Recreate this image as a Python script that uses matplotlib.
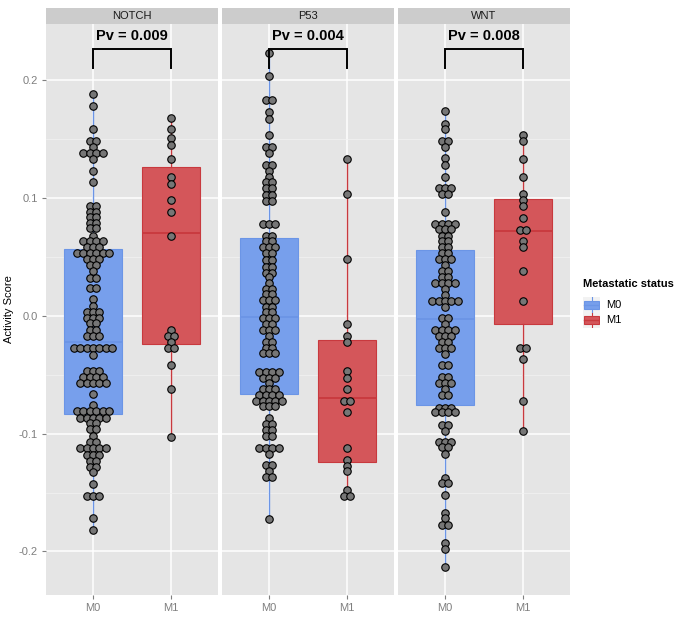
import matplotlib
matplotlib.use("Agg")
import matplotlib.pyplot as plt
from matplotlib.patches import Rectangle

plt.rcParams['font.family'] = ['Liberation Sans', 'DejaVu Sans']

W, H = 680, 617

panels = ['NOTCH', 'P53', 'WNT']
groups = ['M0', 'M1']
pvalues = ['Pv = 0.009', 'Pv = 0.004', 'Pv = 0.008']

# dot rows: level of each stacked row and number of dots in it
notch_m0_y = [0.188, 0.178, 0.158, 0.148, 0.143, 0.138, 0.133, 0.123, 0.113, 0.093, 0.088, 0.084,
              0.079, 0.074, 0.068, 0.063, 0.058, 0.053, 0.048, 0.043, 0.038, 0.032, 0.0235, 0.014,
              0.008, 0.0034, -0.0017, -0.0062, -0.012, -0.017, -0.027, -0.033, -0.047, -0.052,
              -0.057, -0.066, -0.076, -0.081, -0.087, -0.091, -0.096, -0.102, -0.107, -0.112,
              -0.118, -0.123, -0.128, -0.133, -0.143, -0.153, -0.172, -0.182]
notch_m0_n = [1, 1, 1, 2, 1, 4, 1, 1, 1, 2, 2, 2,
              2, 2, 1, 4, 3, 6, 3, 2, 1, 2, 2, 1,
              1, 3, 3, 2, 2, 3, 7, 1, 3, 4,
              5, 1, 1, 6, 5, 2, 2, 1, 2, 5,
              3, 2, 2, 1, 1, 3, 1, 1]
notch_m1_y = [0.1677, 0.158, 0.151, 0.1445, 0.133, 0.118, 0.112, 0.098, 0.088, 0.0676,
              -0.0124, -0.017, -0.022, -0.027, -0.042, -0.062, -0.1026]
notch_m1_n = [1, 1, 1, 1, 1, 1, 1, 1, 1, 1, 1, 2, 1, 2, 1, 1, 1]

p53_m0_y = [0.223, 0.203, 0.183, 0.173, 0.167, 0.153, 0.143, 0.138, 0.128, 0.123, 0.118, 0.113,
            0.108, 0.102, 0.0975, 0.078, 0.068, 0.063, 0.0585, 0.053, 0.047, 0.0416, 0.0365,
            0.0326, 0.028, 0.023, 0.018, 0.0133, 0.0076, 0.003, -0.002, -0.0073, -0.012, -0.017,
            -0.022, -0.027, -0.032, -0.0475, -0.0526, -0.057, -0.062, -0.067, -0.072, -0.077,
            -0.087, -0.092, -0.097, -0.102, -0.112, -0.1175, -0.1266, -0.1317, -0.137, -0.1724]
p53_m0_n = [1, 1, 2, 1, 1, 1, 2, 1, 2, 1, 1, 2,
            2, 2, 2, 3, 2, 2, 3, 2, 2, 2, 2,
            1, 1, 2, 2, 3, 2, 2, 3, 2, 3, 1,
            2, 2, 3, 4, 3, 1, 3, 4, 5, 3,
            1, 2, 2, 2, 4, 1, 2, 1, 2, 1]
p53_m1_y = [0.1327, 0.103, 0.048, -0.007, -0.017, -0.0226, -0.047, -0.0526, -0.062, -0.072,
            -0.082, -0.1125, -0.1224, -0.1275, -0.132, -0.148, -0.1527]
p53_m1_n = [1, 1, 1, 1, 1, 1, 1, 1, 1, 2, 1, 1, 1, 1, 1, 1, 2]

wnt_m0_y = [0.1736, 0.163, 0.158, 0.148, 0.143, 0.1335, 0.128, 0.118, 0.108, 0.103, 0.088, 0.078,
            0.0735, 0.068, 0.063, 0.0585, 0.053, 0.048, 0.043, 0.038, 0.033, 0.028, 0.023,
            0.0176, 0.0127, 0.007, -0.002, -0.007, -0.012, -0.017, -0.022, -0.0277, -0.0325,
            -0.042, -0.052, -0.057, -0.062, -0.067, -0.078, -0.082, -0.093, -0.0975, -0.107,
            -0.1116, -0.117, -0.138, -0.142, -0.152, -0.1676, -0.172, -0.1775, -0.1925, -0.198,
            -0.213]
wnt_m0_n = [1, 1, 1, 2, 1, 1, 1, 1, 3, 2, 1, 4,
            3, 2, 2, 2, 2, 3, 1, 2, 2, 4, 1,
            1, 5, 1, 2, 1, 4, 3, 2, 3, 1,
            2, 2, 3, 1, 2, 3, 4, 2, 1, 3,
            2, 1, 1, 2, 1, 1, 1, 2, 1, 1,
            1]
wnt_m1_y = [0.153, 0.148, 0.133, 0.118, 0.103, 0.098, 0.093, 0.083, 0.073, 0.063, 0.058, 0.038,
            0.0127, -0.0274, -0.037, -0.072, -0.0975]
wnt_m1_n = [1, 1, 1, 1, 1, 1, 1, 1, 2, 1, 1, 1, 1, 2, 1, 1, 1]

dots_y = [[notch_m0_y, notch_m1_y], [p53_m0_y, p53_m1_y], [wnt_m0_y, wnt_m1_y]]
dots_n = [[notch_m0_n, notch_m1_n], [p53_m0_n, p53_m1_n], [wnt_m0_n, wnt_m1_n]]

# box stats: whisker low, q1, median, q3, whisker high
box_lo = [[-0.182, -0.1026], [-0.1724, -0.1527], [-0.213, -0.0975]]
box_q1 = [[-0.083, -0.0237], [-0.0667, -0.1238], [-0.0757, -0.0073]]
box_med = [[-0.022, 0.070], [-0.001, -0.070], [-0.003, 0.072]]
box_q3 = [[0.0563, 0.1264], [0.066, -0.0206], [0.0557, 0.0988]]
box_hi = [[0.188, 0.1677], [0.223, 0.1327], [0.1736, 0.153]]

yticks = [-0.2, -0.1, 0.0, 0.1, 0.2]
ytick_labels = ['-0.2', '-0.1', '0.0', '0.1', '0.2']

fills = ['#779fec', '#d4565a']
edges = ['#6b95e6', '#c8393e']
bg = '#e5e5e5'


def px_axes(fig, x0, y0, x1, y1):
    return fig.add_axes([x0 / W, 1 - y1 / H, (x1 - x0) / W, (y1 - y0) / H])


fig = plt.figure(figsize=(W / 100, H / 100), dpi=100)
fig.patch.set_facecolor('white')

panel_x = [(46, 218), (222, 394), (398, 570)]
top, bottom = 24, 595
xlim = (0.4, 2.6)
ylim = (-0.2369, 0.2474)

for p, name in enumerate(panels):
    x0, x1 = panel_x[p]
    ax = px_axes(fig, x0, top, x1, bottom)
    ax.set_facecolor(bg)
    for s in ax.spines.values():
        s.set_visible(False)

    px_per_unit = (x1 - x0) / (xlim[1] - xlim[0])
    step = 6.4 / px_per_unit

    for g in range(2):
        stats = [dict(whislo=box_lo[p][g], q1=box_q1[p][g], med=box_med[p][g],
                      q3=box_q3[p][g], whishi=box_hi[p][g])]
        ax.bxp(stats, positions=[g + 1], widths=0.75, patch_artist=True,
               showcaps=False, showfliers=False, manage_ticks=False,
               boxprops=dict(facecolor=fills[g], edgecolor=edges[g], lw=0.8),
               whiskerprops=dict(color=edges[g], lw=1.0),
               medianprops=dict(color=edges[g], lw=1.3), zorder=2)

        xs, ys = [], []
        for yv, n in zip(dots_y[p][g], dots_n[p][g]):
            for i in range(n):
                xs.append(g + 1 + (i - (n - 1) / 2) * step)
                ys.append(yv)
        ax.scatter(xs, ys, s=29, facecolor='#767676', edgecolor='black', lw=0.8, zorder=4)

    ax.set_xlim(*xlim)
    ax.set_ylim(*ylim)
    ax.set_yticks(yticks)
    ax.set_yticks([-0.15, -0.05, 0.05, 0.15], minor=True)
    ax.set_xticks([1, 2])
    ax.set_xticklabels(groups)
    ax.grid(which='major', color='white', lw=1.1)
    ax.grid(which='minor', axis='y', color='#f2f2f2', lw=0.5)
    ax.set_axisbelow(True)
    ax.tick_params(axis='both', which='major', colors='#7f7f7f', labelcolor='#7f7f7f',
                   length=3, width=0.8, labelsize=8, pad=3)
    ax.tick_params(which='minor', length=0)
    if p == 0:
        ax.set_yticklabels(ytick_labels)
        ax.set_ylabel('Activity Score', fontsize=8, labelpad=3)
    else:
        ax.tick_params(axis='y', left=False, labelleft=False)

    # significance bracket
    ax.plot([1, 1, 2, 2], [0.21, 0.226, 0.226, 0.21], color='black', lw=1.4,
            zorder=5, solid_joinstyle='miter')
    ax.text(1.5, 0.2375, pvalues[p], ha='center', va='center', fontsize=10.5,
            fontweight='bold', zorder=6)

    # facet strip
    sax = px_axes(fig, x0, 8, x1, 24)
    sax.set_facecolor('#cccccc')
    sax.set_xticks([])
    sax.set_yticks([])
    for s in sax.spines.values():
        s.set_visible(False)
    sax.text(0.5, 0.5, name, ha='center', va='center', fontsize=8, color='#1a1a1a',
             transform=sax.transAxes)

# legend
fig.text(583 / W, 1 - 284 / H, 'Metastatic status', fontsize=8, fontweight='bold',
         ha='left', va='center')
for g in range(2):
    ky = 297 + g * 15.5
    kax = px_axes(fig, 583, ky, 600, ky + 15.5)
    kax.set_xlim(0, 1)
    kax.set_ylim(0, 1)
    kax.set_facecolor('#f2f2f2')
    kax.set_xticks([])
    kax.set_yticks([])
    for s in kax.spines.values():
        s.set_visible(False)
    kax.add_patch(Rectangle((0.08, 0.25), 0.84, 0.5, facecolor=fills[g],
                            edgecolor=edges[g], lw=0.8))
    kax.plot([0.5, 0.5], [0.0, 0.25], color=edges[g], lw=0.8)
    kax.plot([0.5, 0.5], [0.75, 1.0], color=edges[g], lw=0.8)
    kax.plot([0.08, 0.92], [0.5, 0.5], color=edges[g], lw=1.0)
    fig.text(606 / W, 1 - (ky + 7.75) / H, groups[g], fontsize=8, ha='left', va='center')

fig.savefig('out.png', dpi=100)
